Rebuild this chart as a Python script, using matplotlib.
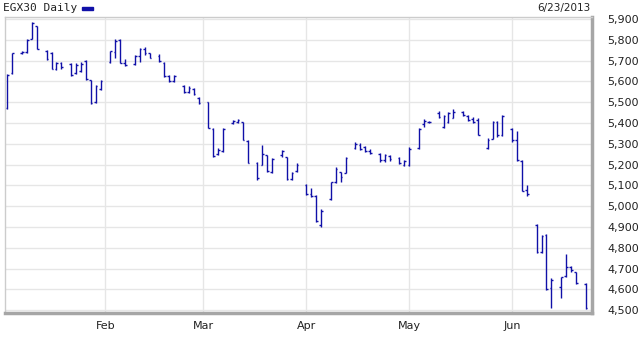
import matplotlib
matplotlib.use("Agg")
import matplotlib.pyplot as plt
from matplotlib.patches import Rectangle
from matplotlib.ticker import FuncFormatter, MultipleLocator
import numpy as np

# EGX30 daily OHLC, Jan - Jun 2013 (None = no bar shown on that slot)
opens = [
    # Jan
    5470, 5640, None, 5735, 5740, 5805, 5865, None, 5745, 5735,
    5660, 5690, None, 5685, 5640, 5650, 5700, 5605, 5500, 5565,
    # Feb
    None, 5695, 5740, 5800, 5690, None, 5685, 5720, 5755, 5735,
    None, 5720, 5690, 5625, 5600, None, 5580, 5550, 5565, 5520,
    # Mar
    None, 5500, 5370, 5250, 5265, None, 5400, 5405, 5405, 5315,
    None, 5210, 5200, 5245, 5165, None, 5245, 5235, 5130, 5170, None,
    # Apr
    5100, 5060, 5050, 4910, None, 5035, 5115, 5165, 5160, None,
    5280, 5295, 5285, 5265, None, 5250, 5220, 5240, None, 5230, 5200,
    # May
    5200, None, 5280, 5395, 5405, None, 5450, 5380, 5405, 5425,
    None, 5455, 5435, 5420, 5415, None, 5280, 5325, 5405, 5340, None,
    # Jun
    5370, 5320, 5218, 5080, None, 4910, 4780, 4860, 4605, None,
    4612, 4665, 4705, 4685, None, 4625,
]
highs = [
    5635, 5738, None, 5745, 5802, 5887, 5866, None, 5751, 5743,
    5695, 5695, None, 5690, 5687, 5693, 5703, 5607, 5583, 5607,
    None, 5748, 5802, 5802, 5706, None, 5727, 5759, 5764, 5738,
    None, 5732, 5695, 5631, 5631, None, 5583, 5578, 5567, 5526,
    None, 5502, 5374, 5280, 5376, None, 5414, 5419, 5406, 5318,
    None, 5214, 5294, 5246, 5230, None, 5270, 5238, 5166, 5206, None,
    5106, 5086, 5053, 4986, None, 5118, 5187, 5166, 5235, None,
    5310, 5302, 5289, 5273, None, 5257, 5251, 5246, None, 5235, 5222,
    5283, None, 5374, 5418, 5410, None, 5459, 5438, 5454, 5466,
    None, 5459, 5438, 5427, 5422, None, 5326, 5411, 5411, 5440, None,
    5374, 5360, 5222, 5100, None, 4914, 4863, 4864, 4653, None,
    4661, 4770, 4711, 4685, None, 4629,
]
lows = [
    5465, 5635, None, 5730, 5735, 5802, 5754, None, 5703, 5658,
    5655, 5660, None, 5626, 5635, 5645, 5607, 5491, 5494, 5559,
    None, 5690, 5711, 5687, 5674, None, 5679, 5695, 5727, 5711,
    None, 5695, 5622, 5598, 5598, None, 5543, 5543, 5534, 5491,
    None, 5374, 5238, 5246, 5262, None, 5395, 5400, 5318, 5206,
    None, 5126, 5198, 5166, 5160, None, 5238, 5126, 5126, 5166, None,
    5053, 5045, 4925, 4901, None, 5030, 5113, 5118, 5158, None,
    5273, 5270, 5262, 5250, None, 5214, 5214, 5218, None, 5203, 5193,
    5193, None, 5273, 5382, 5400, None, 5422, 5374, 5398, 5422,
    None, 5434, 5411, 5398, 5340, None, 5275, 5323, 5335, 5337, None,
    5310, 5216, 5072, 5050, None, 4775, 4775, 4597, 4510, None,
    4560, 4661, 4683, 4625, None, 4506,
]
closes = [
    5630, 5735, None, 5740, 5800, 5880, 5757, None, 5710, 5660,
    5690, 5668, None, 5630, 5680, 5685, 5610, 5495, 5580, 5600,
    None, 5745, 5795, 5690, 5680, None, 5720, 5755, 5735, 5715,
    None, 5700, 5625, 5600, 5625, None, 5550, 5570, 5540, 5495,
    None, 5378, 5242, 5270, 5370, None, 5410, 5415, 5320, 5210,
    None, 5135, 5250, 5170, 5225, None, 5265, 5130, 5160, 5200, None,
    5060, 5050, 4930, 4975, None, 5115, 5180, 5140, 5230, None,
    5300, 5275, 5265, 5255, None, 5220, 5245, 5225, None, 5210, 5215,
    5275, None, 5370, 5410, 5405, None, 5430, 5435, 5450, 5455,
    None, 5440, 5415, 5405, 5342, None, 5320, 5405, 5340, 5435, None,
    5320, 5222, 5075, 5060, None, 4780, 4858, 4600, 4645, None,
    4658, 4705, 4695, 4628, None, 4512,
]

months = ["Feb", "Mar", "Apr", "May", "Jun"]
month_start = [20, 40, 61, 82, 103]
last_date = "6/23/2013"

blue = "#1010a8"

o = np.array(opens, dtype=float)
h = np.array(highs, dtype=float)
l = np.array(lows, dtype=float)
c = np.array(closes, dtype=float)
x = np.arange(len(o))
ok = ~np.isnan(o)

fig = plt.figure(figsize=(6.4, 3.37), dpi=100)
ax = fig.add_axes([5 / 640, 24 / 337, 587 / 640, 296 / 337])

ax.vlines(x[ok], l[ok], h[ok], color=blue, lw=1.0)
ax.hlines(o[ok], x[ok] - 0.35, x[ok], color=blue, lw=1.0)
ax.hlines(c[ok], x[ok], x[ok] + 0.35, color=blue, lw=1.0)

ax.set_xlim(-0.5, 119.3)
ax.set_ylim(4486, 5910)

ax.yaxis.tick_right()
ax.yaxis.set_major_locator(MultipleLocator(100))
ax.yaxis.set_major_formatter(FuncFormatter(lambda v, p: f"{int(v):,}"))
ax.set_xticks(month_start)
ax.set_xticklabels(months)
ax.tick_params(axis="y", length=0, pad=11, labelsize=8, labelcolor="#222222")
ax.tick_params(axis="x", length=0, pad=6, labelsize=8, labelcolor="#222222")

ax.grid(True, color="#e6e6e6", lw=1)
ax.set_axisbelow(True)

for s in ["top", "left"]:
    ax.spines[s].set_color("#cccccc")
    ax.spines[s].set_linewidth(1)
for s in ["right", "bottom"]:
    ax.spines[s].set_color("#a6a6a6")
    ax.spines[s].set_linewidth(2.5)

fig.text(3 / 640, 1 - 8 / 337, "EGX30 Daily", family="DejaVu Sans Mono",
         fontsize=8, va="center", color="#222222")
fig.patches.append(Rectangle((82 / 640, 1 - 10 / 337), 11 / 640, 3 / 337,
                             transform=fig.transFigure, color=blue))
fig.text(590 / 640, 1 - 8 / 337, last_date, ha="right", va="center",
         fontsize=7.5, color="#222222")

fig.savefig("out.png", dpi=100)
